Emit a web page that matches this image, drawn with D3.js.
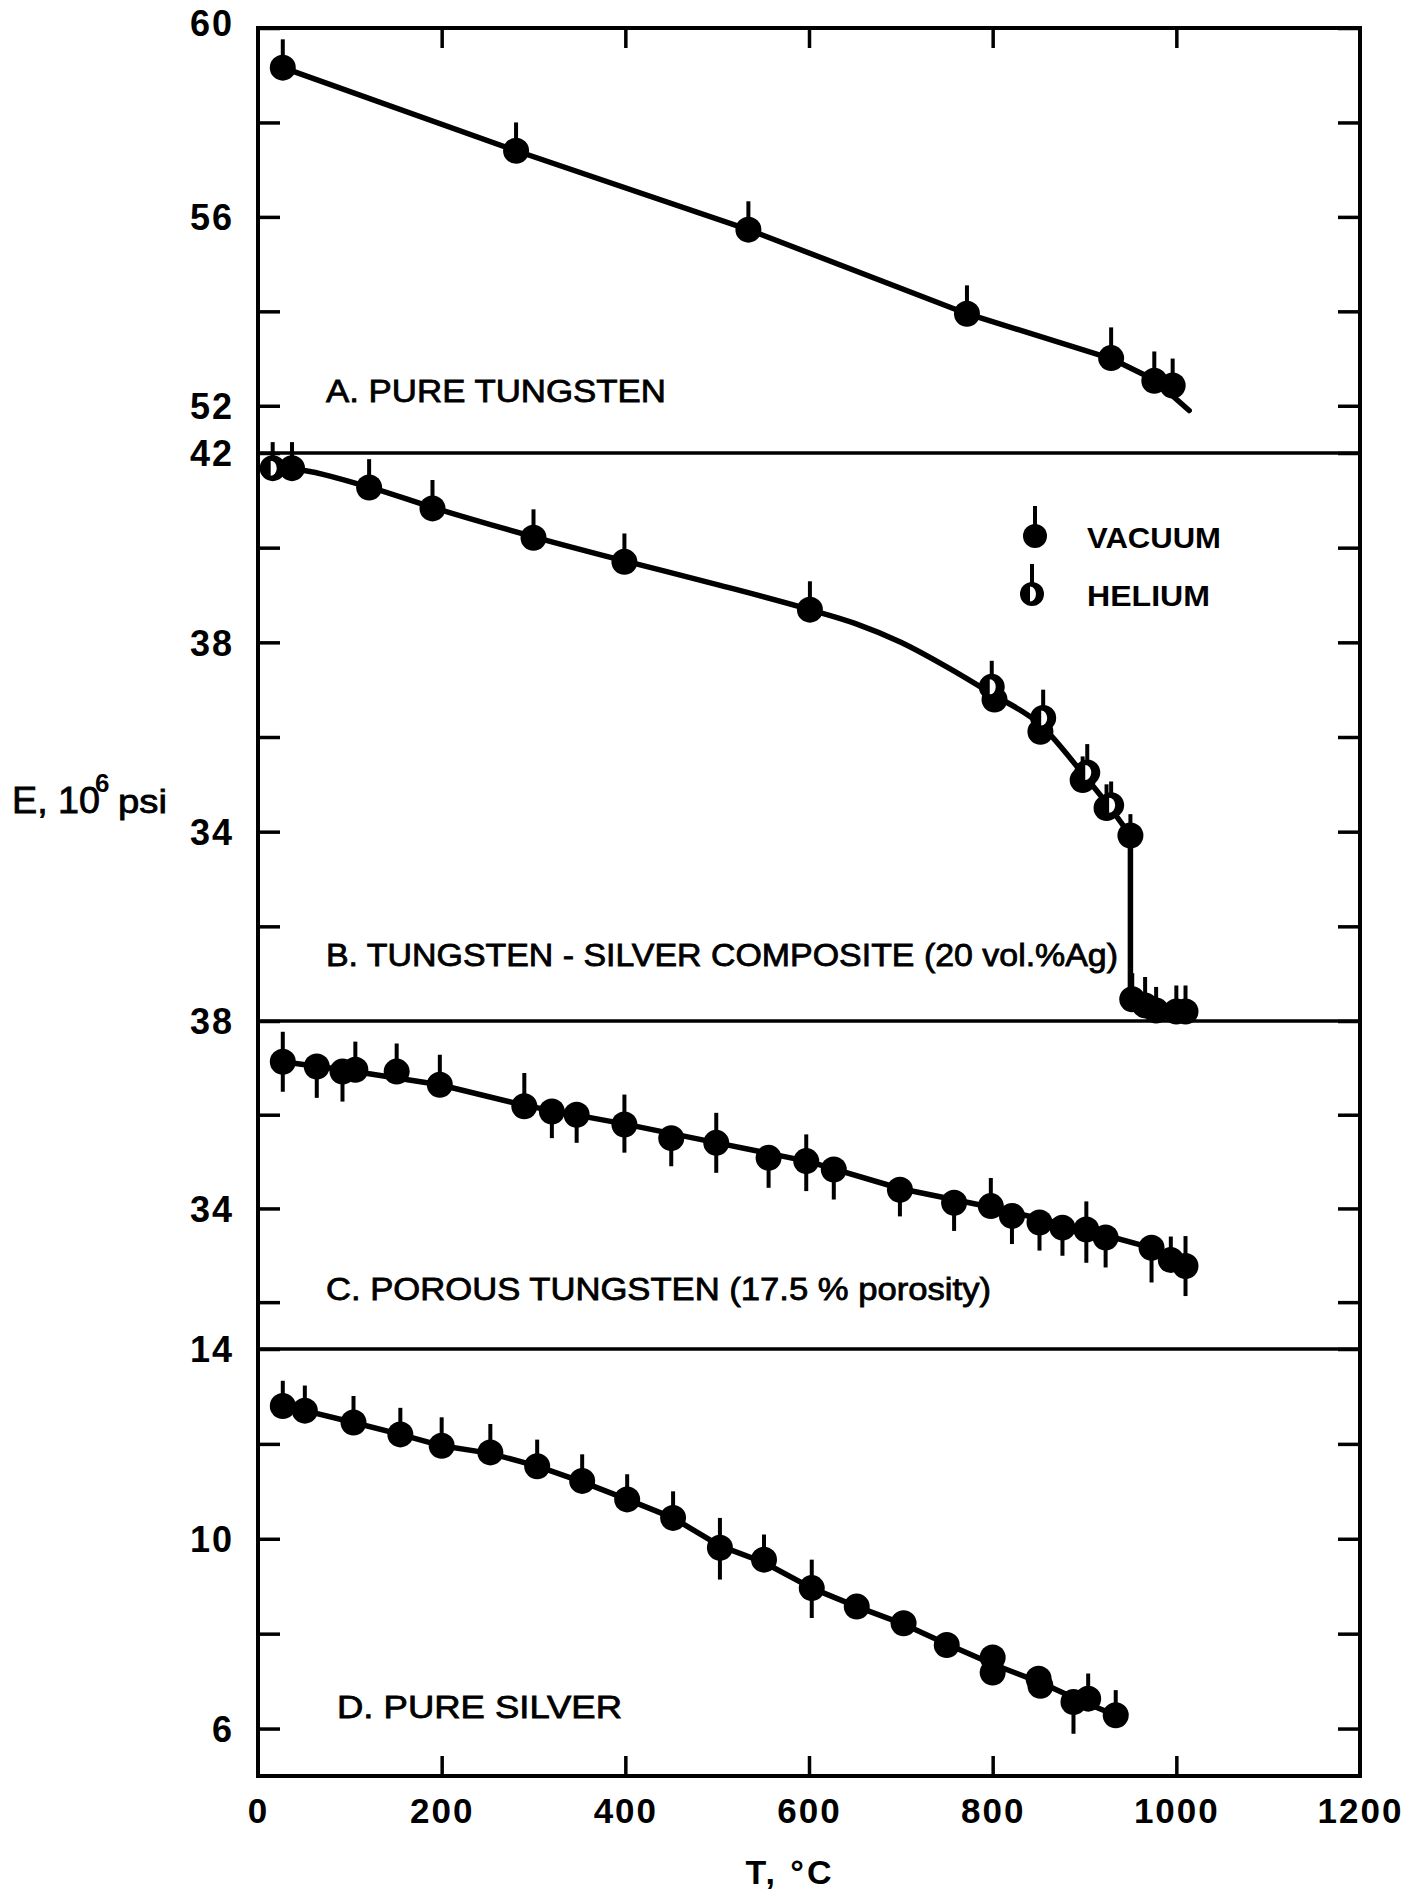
<!DOCTYPE html>
<html><head><meta charset="utf-8">
<script src="https://cdn.jsdelivr.net/npm/d3@7"></script>
<style>body{margin:0;background:#fff}svg{display:block}</style>
</head><body>
<svg id="chart" width="1416" height="1893"></svg>
<script>
// ---------------- data ----------------
const tempTicks = [0, 200, 400, 600, 800, 1000, 1200];
const tempInnerTicks = [200, 400, 600, 800, 1000];

// Panel A: pure tungsten (vacuum)
const tungstenPoints = [
  {t:27, e:59.16, up:0.6, dn:0}, {t:281, e:57.40, up:0.6, dn:0}, {t:534, e:55.73, up:0.6, dn:0},
  {t:772, e:53.95, up:0.6, dn:0}, {t:929, e:53.01, up:0.65, dn:0}, {t:976, e:52.53, up:0.62, dn:0},
  {t:996, e:52.43, up:0.57, dn:0}
];
const tungstenCurve = [[27,59.16],[281,57.40],[534,55.73],[772,53.95],[929,53.0],[976,52.55],[1014,51.9]];

// Panel B: tungsten-silver composite
const compositeVacuum = [
  {t:37, e:41.68, up:0.55, dn:0}, {t:121, e:41.27, up:0.6, dn:0}, {t:190, e:40.83, up:0.6, dn:0},
  {t:300, e:40.21, up:0.6, dn:0}, {t:399, e:39.70, up:0.6, dn:0}, {t:601, e:38.69, up:0.6, dn:0},
  {t:802, e:36.79, up:0.5, dn:0}, {t:852, e:36.11, up:0.5, dn:0}, {t:898, e:35.09, up:0.5, dn:0},
  {t:924, e:34.50, up:0.5, dn:0}, {t:950, e:33.92, up:0.45, dn:0},
  {t:952, e:30.46, up:0.55, dn:0}, {t:966, e:30.33, up:0.6, dn:0}, {t:978, e:30.22, up:0.5, dn:0},
  {t:1000, e:30.20, up:0.55, dn:0}, {t:1010, e:30.20, up:0.55, dn:0}
];
const compositeHelium = [
  {t:16, e:41.68, up:0.55, dn:0}, {t:799, e:37.06, up:0.55, dn:0}, {t:855, e:36.40, up:0.6, dn:0},
  {t:903, e:35.25, up:0.6, dn:0}, {t:929, e:34.56, up:0.5, dn:0}
];
// smooth upper branch and the abrupt drop
const compositeCurveUpper = [[16,41.68],[37,41.66],[121,41.28],[190,40.85],[300,40.23],[399,39.72],[500,39.22],
  [601,38.69],[650,38.4],[700,38.0],[750,37.48],[800,36.9],[852,36.26],[900,35.18],[927,34.53],[950,33.92]];
const compositeCurveDrop = [[950,33.92],[950,30.6],[962,30.4],[985,30.22],[1010,30.18]];

// Panel C: porous tungsten
const porousPoints = [
  {t:27, e:37.13, up:0.64, dn:0.64}, {t:64, e:37.03, up:0, dn:0.67}, {t:92, e:36.92, up:0, dn:0.64},
  {t:106, e:36.96, up:0.6, dn:0}, {t:151, e:36.92, up:0.6, dn:0}, {t:198, e:36.64, up:0.64, dn:0},
  {t:290, e:36.18, up:0.71, dn:0}, {t:320, e:36.07, up:0, dn:0.57}, {t:347, e:36.00, up:0, dn:0.6},
  {t:399, e:35.79, up:0.64, dn:0.6}, {t:450, e:35.50, up:0, dn:0.6}, {t:499, e:35.40, up:0.64, dn:0.64},
  {t:556, e:35.08, up:0, dn:0.64}, {t:597, e:35.01, up:0.57, dn:0.64}, {t:627, e:34.83, up:0, dn:0.64},
  {t:699, e:34.40, up:0, dn:0.57}, {t:758, e:34.12, up:0, dn:0.6}, {t:798, e:34.05, up:0.6, dn:0},
  {t:821, e:33.84, up:0, dn:0.6}, {t:851, e:33.70, up:0, dn:0.6}, {t:876, e:33.59, up:0, dn:0.6},
  {t:902, e:33.55, up:0.6, dn:0.71}, {t:923, e:33.38, up:0, dn:0.64}, {t:973, e:33.16, up:0, dn:0.74},
  {t:994, e:32.90, up:0.5, dn:0}, {t:1010, e:32.77, up:0.64, dn:0.64}
];
const porousCurve = [[27,37.13],[100,36.94],[198,36.64],[290,36.2],[400,35.8],[500,35.4],[600,35.0],
  [700,34.42],[800,34.02],[900,33.55],[973,33.16],[1010,32.8]];

// Panel D: pure silver
const silverPoints = [
  {t:27, e:12.80, up:0.53, dn:0}, {t:51, e:12.70, up:0.53, dn:0}, {t:104, e:12.45, up:0.56, dn:0},
  {t:155, e:12.20, up:0.56, dn:0}, {t:200, e:11.96, up:0.6, dn:0}, {t:253, e:11.82, up:0.6, dn:0},
  {t:304, e:11.53, up:0.56, dn:0}, {t:353, e:11.22, up:0.56, dn:0}, {t:402, e:10.83, up:0.53, dn:0},
  {t:452, e:10.44, up:0.56, dn:0}, {t:503, e:9.81, up:0.63, dn:0.67}, {t:551, e:9.56, up:0.53, dn:0},
  {t:603, e:8.96, up:0.6, dn:0.63}, {t:652, e:8.57, up:0, dn:0}, {t:703, e:8.22, up:0, dn:0},
  {t:750, e:7.76, up:0, dn:0}, {t:800, e:7.50, up:0, dn:0}, {t:800, e:7.18, up:0, dn:0},
  {t:850, e:7.05, up:0, dn:0}, {t:852, e:6.90, up:0, dn:0}, {t:888, e:6.56, up:0, dn:0.67},
  {t:904, e:6.63, up:0.53, dn:0}, {t:934, e:6.28, up:0.53, dn:0}
];
const silverCurve = [[27,12.8],[51,12.7],[104,12.45],[155,12.2],[200,11.96],[253,11.8],[304,11.53],
  [353,11.2],[402,10.83],[452,10.44],[503,9.85],[551,9.5],[603,8.96],[652,8.57],[703,8.2],[750,7.78],
  [801,7.35],[851,6.98],[896,6.58],[934,6.28]];

// axis ticks and labels for each panel
const ticksA = [52, 54, 56, 58, 60], labelsA = [52, 56, 60];
const ticksB = [32, 34, 36, 38, 40, 42], labelsB = [34, 38, 42];
const ticksC = [32, 34, 36, 38], labelsC = [34, 38];
const ticksD = [6, 8, 10, 12, 14], labelsD = [6, 10, 14];
const domainsE = [[51, 60], [30, 42], [31, 38], [5, 14]];
const panelTitles = ["A. PURE TUNGSTEN", "B. TUNGSTEN - SILVER COMPOSITE (20 vol.%Ag)",
  "C. POROUS TUNGSTEN (17.5 % porosity)", "D. PURE SILVER"];
const legendLabels = ["VACUUM", "HELIUM"];

(function () {
// ---------------- layout ----------------
const pLeft = 258, pRight = 1360, pTop = 28, pBottom = 1776;
const breaks = [28, 453, 1021, 1349, 1776];
const titlePos = [[326, 402, 340], [326, 966, 792], [326, 1300, 665], [337, 1718, 285]];
const FONT = "'Liberation Sans', Arial, sans-serif";

const svg = d3.select("#chart");
svg.append("rect").attr("width", 1416).attr("height", 1893).attr("fill", "#fff");

const x = d3.scaleLinear().domain([0, 1200]).range([pLeft, pRight]);

const panels = [
  {dom: domainsE[0], ticks: ticksA, labels: labelsA, curves: [[tungstenCurve, d3.curveLinear]], sets: [[tungstenPoints, "v"]]},
  {dom: domainsE[1], ticks: ticksB, labels: labelsB,
   curves: [[compositeCurveUpper, d3.curveMonotoneX], [compositeCurveDrop, d3.curveLinear]],
   sets: [[compositeVacuum, "v"], [compositeHelium, "h"]]},
  {dom: domainsE[2], ticks: ticksC, labels: labelsC, curves: [[porousCurve, d3.curveLinear]], sets: [[porousPoints, "v"]]},
  {dom: domainsE[3], ticks: ticksD, labels: labelsD, curves: [[silverCurve, d3.curveLinear]], sets: [[silverPoints, "v"]]}
];

function drawMarker(g, cx, cy, kind, r) {
  g.append("circle").attr("cx", cx).attr("cy", cy).attr("r", r).attr("fill", "#000");
  if (kind === "h") {
    g.append("path")
      .attr("d", `M${cx-2},${cy-7.5} L${cx-2},${cy+7.5} A6,7.5 0 0 0 ${cx-2},${cy-7.5} Z`)
      .attr("fill", "#fff");
  }
}

panels.forEach((p, i) => {
  const y = d3.scaleLinear().domain(p.dom).range([breaks[i+1], breaks[i]]);
  const g = svg.append("g");

  const la = g.append("g").attr("transform", `translate(${pLeft},0)`)
    .call(d3.axisLeft(y).tickValues(p.ticks).tickSize(-22).tickSizeOuter(0).tickPadding(24)
      .tickFormat(d => p.labels.includes(d) ? d : ""));
  la.select(".domain").remove();
  la.selectAll(".tick line").attr("stroke", "#000").attr("stroke-width", 3.5);
  la.selectAll(".tick text").attr("font-family", FONT).attr("font-weight", "bold")
    .attr("font-size", 36).attr("letter-spacing", 2).attr("fill", "#000").attr("dy", "0.36em");
  if (i === 0) la.selectAll(".tick text").filter(d => d === 60).attr("dy", "0.22em");

  const ra = g.append("g").attr("transform", `translate(${pRight},0)`)
    .call(d3.axisRight(y).tickValues(p.ticks).tickSize(-22).tickSizeOuter(0).tickFormat(""));
  ra.select(".domain").remove();
  ra.selectAll(".tick line").attr("stroke", "#000").attr("stroke-width", 3.5);

  if (i > 0) {
    g.append("line").attr("x1", pLeft).attr("x2", pRight)
      .attr("y1", breaks[i]).attr("y2", breaks[i]).attr("stroke", "#000").attr("stroke-width", 3.5);
  }

  p.curves.forEach(([pts, curveType]) => {
    g.append("path").datum(pts)
      .attr("d", d3.line().curve(curveType).x(d => x(d[0])).y(d => y(d[1])))
      .attr("fill", "none").attr("stroke", "#000").attr("stroke-width", 5.5)
      .attr("stroke-linejoin", "round").attr("stroke-linecap", "round");
  });

  p.sets.forEach(([pts, kind]) => {
    pts.forEach(d => {
      if (d.up > 0 || d.dn > 0) {
        g.append("line").attr("x1", x(d.t)).attr("x2", x(d.t))
          .attr("y1", y(d.e + d.up)).attr("y2", y(d.e - d.dn))
          .attr("stroke", "#000").attr("stroke-width", 4);
      }
      drawMarker(g, x(d.t), y(d.e), kind, 13);
    });
  });

  const [tx, ty, tw] = titlePos[i];
  g.append("text").attr("x", tx).attr("y", ty).text(panelTitles[i])
    .attr("font-family", FONT).attr("font-size", 32).attr("fill", "#000")
    .attr("stroke", "#000").attr("stroke-width", 0.8)
    .attr("textLength", tw).attr("lengthAdjust", "spacingAndGlyphs");
});

const ta = svg.append("g").attr("transform", `translate(0,${pTop})`)
  .call(d3.axisTop(x).tickValues(tempInnerTicks).tickSize(-20).tickSizeOuter(0).tickFormat(""));
ta.select(".domain").remove();
ta.selectAll(".tick line").attr("stroke", "#000").attr("stroke-width", 3.5);

const ba = svg.append("g").attr("transform", `translate(0,${pBottom})`)
  .call(d3.axisBottom(x).tickValues(tempTicks).tickSize(-20).tickSizeOuter(0).tickPadding(22)
    .tickFormat(d3.format("d")));
ba.select(".domain").remove();
ba.selectAll(".tick line").attr("stroke", d => tempInnerTicks.includes(d) ? "#000" : "none").attr("stroke-width", 3.5);
ba.selectAll(".tick text").attr("font-family", FONT).attr("font-weight", "bold")
  .attr("font-size", 35).attr("letter-spacing", 2).attr("fill", "#000");

svg.append("rect").attr("x", pLeft).attr("y", pTop).attr("width", pRight - pLeft).attr("height", pBottom - pTop)
  .attr("fill", "none").attr("stroke", "#000").attr("stroke-width", 4);

const yt = svg.append("g");
yt.append("text").attr("x", 12).attr("y", 813).text("E, 10")
  .attr("font-family", FONT).attr("font-size", 36).attr("fill", "#000")
  .attr("stroke", "#000").attr("stroke-width", 0.8).attr("textLength", 88).attr("lengthAdjust", "spacingAndGlyphs");
yt.append("text").attr("x", 95).attr("y", 792).text("6")
  .attr("font-family", FONT).attr("font-size", 26).attr("font-weight", "bold").attr("fill", "#000");
yt.append("text").attr("x", 118).attr("y", 813).text("psi")
  .attr("font-family", FONT).attr("font-size", 34).attr("fill", "#000")
  .attr("stroke", "#000").attr("stroke-width", 0.8).attr("textLength", 49).attr("lengthAdjust", "spacingAndGlyphs");

svg.append("text").attr("x", 790).attr("y", 1884).attr("text-anchor", "middle").text("T, °C")
  .attr("font-family", FONT).attr("font-size", 34).attr("font-weight", "bold").attr("fill", "#000")
  .attr("letter-spacing", 3);

const leg = svg.append("g");
[[1035, 536, "v"], [1032, 594, "h"]].forEach(([lx, ly, kind], k) => {
  leg.append("line").attr("x1", lx).attr("x2", lx).attr("y1", ly - 30).attr("y2", ly)
    .attr("stroke", "#000").attr("stroke-width", 4);
  drawMarker(leg, lx, ly, kind, 12);
  leg.append("text").attr("x", 1087).attr("y", ly + 12).text(legendLabels[k])
    .attr("font-family", FONT).attr("font-size", 30).attr("font-weight", "bold").attr("fill", "#000")
    .attr("textLength", k === 0 ? 134 : 123).attr("lengthAdjust", "spacingAndGlyphs");
});
})();
</script>
</body></html>
